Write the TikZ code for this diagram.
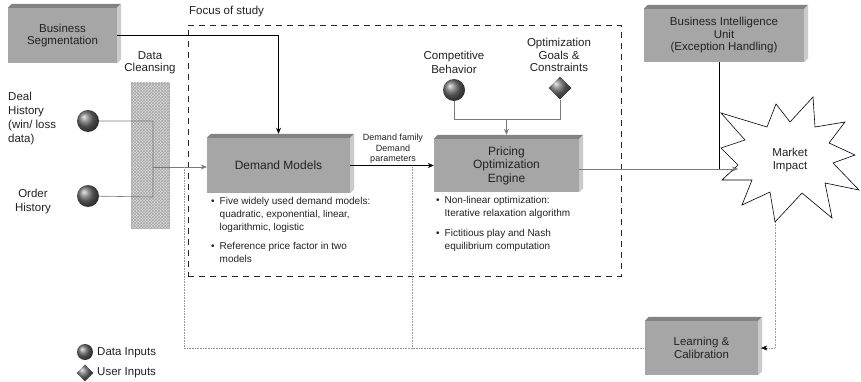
\documentclass[tikz,border=0pt]{standalone}
\usepackage{fontspec}
\setmainfont{Liberation Sans}
\usetikzlibrary{arrows.meta,shapes.geometric,patterns,calc}
\definecolor{facec}{HTML}{A6A6A6}
\definecolor{topc}{HTML}{838383}
\definecolor{sidec}{HTML}{CACACA}
\definecolor{linec}{HTML}{7A7A7A}
\definecolor{txtc}{HTML}{222222}
\begin{document}
\begin{tikzpicture}[x=1pt,y=-1pt, font=\fontsize{11.5}{12.5}\selectfont, text=txtc,
  box/.style={fill=facec, draw=none, inner sep=2pt, align=center},
  ball/.style={circle, minimum size=22pt, inner sep=0pt, shade, ball color=gray!85!black},
  udiam/.style={diamond, minimum size=23pt, inner sep=0pt, shade, ball color=gray!85!black},
  lbl/.style={align=center, inner sep=0pt},
  conn/.style={linec, line width=0.6pt},
  dotline/.style={gray!80, line width=0.5pt, dash pattern=on 0.8pt off 0.8pt},
  tip/.style={-{Stealth[length=6pt,width=5pt]}}
]
\fill[white] (0,0) rectangle (861,382);
\useasboundingbox (0,0) rectangle (861,382);

% focus of study
\node[draw=black!85, line width=0.9pt, dash pattern=on 6pt off 5pt, minimum width=433pt, minimum height=251pt, inner sep=0pt] (focus) at (404.5,150.5) {};
\node[anchor=west, inner sep=0pt] (focl) at (189,12) {Focus of study};

% 3D boxes
\node[box, minimum width=109pt, minimum height=55pt] (bs) at (62.5,35.5) {Business\\Segmentation};
\node[box, minimum width=143pt, minimum height=55pt, font=\fontsize{12}{13}\selectfont] (dm) at (278.5,165.5) {Demand Models};
\node[box, minimum width=145pt, minimum height=53pt, font=\fontsize{12}{13.5}\selectfont] (poe) at (506.5,165.5) {Pricing\\Optimization\\Engine};
\node[box, minimum width=160pt, minimum height=53pt] (biu) at (724,35.5) {Business Intelligence\\Unit\\(Exception Handling)};
\node[box, minimum width=113pt, minimum height=54pt] (lc) at (701.5,348) {Learning \&\\Calibration};
\foreach \n in {bs,dm,poe,biu,lc}{
  \fill[topc] (\n.north west) -- ++(4,-4) -- ($(\n.north east)+(4,-4)$) -- (\n.north east) -- cycle;
  \fill[sidec] (\n.north east) -- ++(4,-4) -- ($(\n.south east)+(4,-4)$) -- (\n.south east) -- cycle;
}

% data cleansing
\node[lbl, font=\fontsize{11.5}{12}\selectfont] (dcl) at (150,63) {Data\\Cleansing};
\node[draw=gray!60, preaction={fill=gray!30}, pattern=crosshatch, pattern color=gray!70, minimum width=38pt, minimum height=145pt, inner sep=0pt] (dc) at (150,155.5) {};

% data inputs
\node[ball] (deal) at (88,121) {};
\node[ball] (order) at (88,196) {};
\node[lbl, anchor=west, align=left, font=\fontsize{11.5}{14}\selectfont] (dealt) at (8,119) {Deal\\History\\(win/ loss\\data)};
\node[lbl, font=\fontsize{11.5}{14}\selectfont] (ordert) at (33,202) {Order\\History};

\coordinate (jd) at (153,121);
\coordinate (jo) at (153,197);
\coordinate (jm) at (153,167);
\draw[conn] (deal) -- (jd) -- (jo) -- (order);
\draw[conn, tip] (jm) -- (jm -| dm.west);

% business segmentation -> demand models
\draw[black, line width=0.8pt, tip] (bs.east) -| ([yshift=4pt]dm.north);

% demand -> pricing
\draw[black, line width=0.6pt, tip] (dm.east) -- (dm.east -| poe.west);
\node[lbl, font=\fontsize{9}{10.5}\selectfont] (dfl) at (393,149) {Demand family\\Demand\\parameters};

% competitive / goals
\node[lbl, font=\fontsize{11.5}{14}\selectfont] (cbt) at (454,62) {Competitive\\Behavior};
\node[lbl] (ogt) at (559,55) {Optimization\\Goals \&\\Constraints};
\node[ball] (cb) at (454,90) {};
\node[udiam] (og) at (560,88) {};
\coordinate (cj) at (454,119);
\draw[conn] (cb) -- (cb |- cj) -- (og |- cj) -- (og);
\draw[conn, tip] (poe.north |- cj) -- ([yshift=4pt]poe.north);

% bullets
\node[anchor=north west, inner sep=0pt, font=\fontsize{10}{13}\selectfont] (dmb) at (211,195)
 {\begin{tabular}{@{}l@{\hspace{5pt}}l@{}}
  \textbullet & Five widely used demand models:\\
   & quadratic, exponential, linear,\\
   & logarithmic, logistic\\[6pt]
  \textbullet & Reference price factor in two\\
   & models
 \end{tabular}};
\node[anchor=north west, inner sep=0pt, font=\fontsize{10}{12.5}\selectfont] (poeb) at (436,195)
 {\begin{tabular}{@{}l@{\hspace{5pt}}l@{}}
  \textbullet & Non-linear optimization:\\
   & Iterative relaxation algorithm\\[8pt]
  \textbullet & Fictitious play and Nash\\
   & equilibrium computation
 \end{tabular}};

% market impact (starburst)
\filldraw[fill=white, draw=black, line width=0.6pt, line join=miter]
  (721,113) -- (767,127) -- (776,104) -- (790,122) -- (813,97) -- (815,127)
  -- (845,122) -- (829,143) -- (855,155) -- (833,163) -- (859,190) -- (825,183)
  -- (832,218) -- (802,193) -- (775,222) -- (770,192) -- (742,205) -- (752,180)
  -- (722,180) -- (738,165) -- (721,148) -- (745,140) -- cycle;
\node[lbl] (mi) at (790,160) {Market\\Impact};
\coordinate (miin) at (738,169);
\draw[conn, tip] (poe.east |- miin) -- (miin);
\coordinate (bj) at (719,169);
\draw[black, line width=0.6pt] (biu.south -| bj) -- (bj);

% dotted feedback lines
\coordinate (d1) at (184,167);
\coordinate (d2) at (412,167);
\coordinate (d3) at (775,222);
\draw[dotline] (d1) |- (lc.west);
\draw[dotline] (d2) -- (d2 |- lc.west);
\draw[dotline] (d3) |- ([xshift=3pt]lc.east);
\draw[black, -{Stealth[length=6pt,width=5pt]}] ([xshift=9pt]lc.east) -- ([xshift=3pt]lc.east);

% legend
\node[ball, minimum size=16pt] (lb) at (85,352) {};
\node[udiam, minimum size=17pt] (ld) at (85,373) {};
\node[anchor=west, inner sep=0pt] (lbt) at (97,353) {Data Inputs};
\node[anchor=west, inner sep=0pt] (ldt) at (97,373) {User Inputs};
\end{tikzpicture}
\end{document}
